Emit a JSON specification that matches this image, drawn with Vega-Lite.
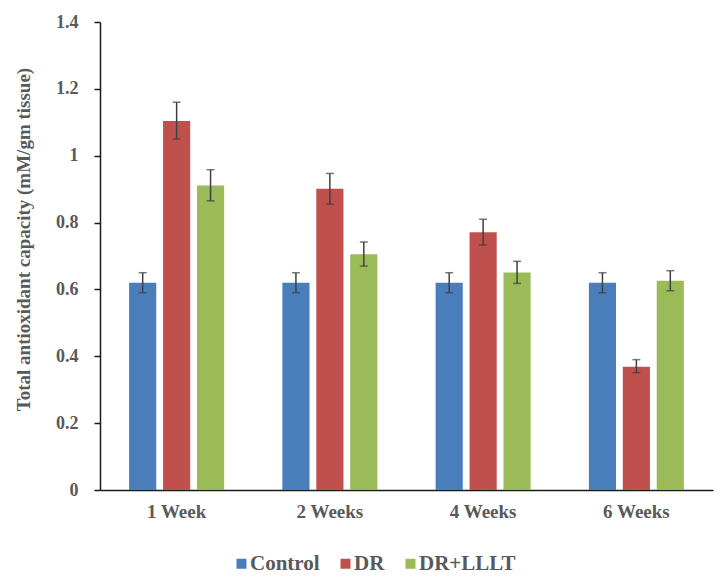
{
  "$schema": "https://vega.github.io/schema/vega-lite/v6.json",
  "width": 613,
  "height": 468,
  "autosize": {"type": "none"},
  "padding": {"left": 100, "top": 22, "right": 15, "bottom": 96},
  "background": "white",
  "config": {
    "view": {"stroke": null},
    "font": "Liberation Serif",
    "axis": {"grid": false, "domainColor": "#1a1a1a", "domainWidth": 1.5, "tickColor": "#1a1a1a", "tickWidth": 1.5, "labelColor": "#595959", "labelFont": "Liberation Serif", "labelFontWeight": "bold", "labelFontSize": 18, "titleFont": "Liberation Serif", "titleColor": "#595959"}
  },
  "data": {
    "values": [
      {"week": "1 Week", "group": "Control", "value": 0.62, "lo": 0.59, "hi": 0.65},
      {"week": "1 Week", "group": "DR", "value": 1.104, "lo": 1.05, "hi": 1.16},
      {"week": "1 Week", "group": "DR+LLLT", "value": 0.911, "lo": 0.865, "hi": 0.958},
      {"week": "2 Weeks", "group": "Control", "value": 0.62, "lo": 0.59, "hi": 0.65},
      {"week": "2 Weeks", "group": "DR", "value": 0.901, "lo": 0.855, "hi": 0.947},
      {"week": "2 Weeks", "group": "DR+LLLT", "value": 0.705, "lo": 0.67, "hi": 0.742},
      {"week": "4 Weeks", "group": "Control", "value": 0.62, "lo": 0.59, "hi": 0.65},
      {"week": "4 Weeks", "group": "DR", "value": 0.771, "lo": 0.733, "hi": 0.81},
      {"week": "4 Weeks", "group": "DR+LLLT", "value": 0.651, "lo": 0.618, "hi": 0.684},
      {"week": "6 Weeks", "group": "Control", "value": 0.62, "lo": 0.59, "hi": 0.65},
      {"week": "6 Weeks", "group": "DR", "value": 0.369, "lo": 0.351, "hi": 0.39},
      {"week": "6 Weeks", "group": "DR+LLLT", "value": 0.626, "lo": 0.596, "hi": 0.656}
    ]
  },
  "encoding": {
    "x": {
      "field": "week", "type": "nominal",
      "sort": ["1 Week", "2 Weeks", "4 Weeks", "6 Weeks"],
      "scale": {"paddingInner": 0.38, "paddingOuter": 0.19},
      "axis": {"title": null, "ticks": false, "labelAngle": 0, "labelPadding": 12, "labelFontSize": 19}
    },
    "xOffset": {
      "field": "group", "type": "nominal",
      "sort": ["Control", "DR", "DR+LLLT"],
      "scale": {"paddingInner": 0.2, "paddingOuter": 0}
    }
  },
  "layer": [
    {
      "mark": {"type": "bar"},
      "encoding": {
        "y": {
          "field": "value", "type": "quantitative",
          "scale": {"domain": [0, 1.4]},
          "axis": {"values": [0, 0.2, 0.4, 0.6, 0.8, 1, 1.2, 1.4], "format": "~g", "tickSize": 6, "labelPadding": 16, "title": "Total antioxidant capacity (mM/gm tissue)", "titleFontSize": 19, "titleFontWeight": "bold", "titlePadding": 22, "titleY": 217}
        },
        "color": {
          "field": "group", "type": "nominal",
          "sort": ["Control", "DR", "DR+LLLT"],
          "scale": {"domain": ["Control", "DR", "DR+LLLT"], "range": ["#4a7ebb", "#c0504d", "#9bbb59"]},
          "legend": {"title": null, "orient": "none", "direction": "horizontal", "legendX": 131, "legendY": 531, "symbolType": "square", "symbolSize": 100, "symbolStrokeWidth": 0, "labelFontSize": 21, "labelFontWeight": "bold", "labelColor": "#595959", "labelFont": "Liberation Serif", "columnPadding": 15, "labelOffset": -2}
        }
      }
    },
    {
      "mark": {"type": "rule", "color": "#404040", "strokeWidth": 1.5},
      "encoding": {
        "y": {"field": "lo", "type": "quantitative"},
        "y2": {"field": "hi"}
      }
    },
    {
      "mark": {"type": "tick", "color": "#404040", "thickness": 1.5, "size": 8},
      "encoding": {"y": {"field": "lo", "type": "quantitative"}}
    },
    {
      "mark": {"type": "tick", "color": "#404040", "thickness": 1.5, "size": 8},
      "encoding": {"y": {"field": "hi", "type": "quantitative"}}
    }
  ]
}
